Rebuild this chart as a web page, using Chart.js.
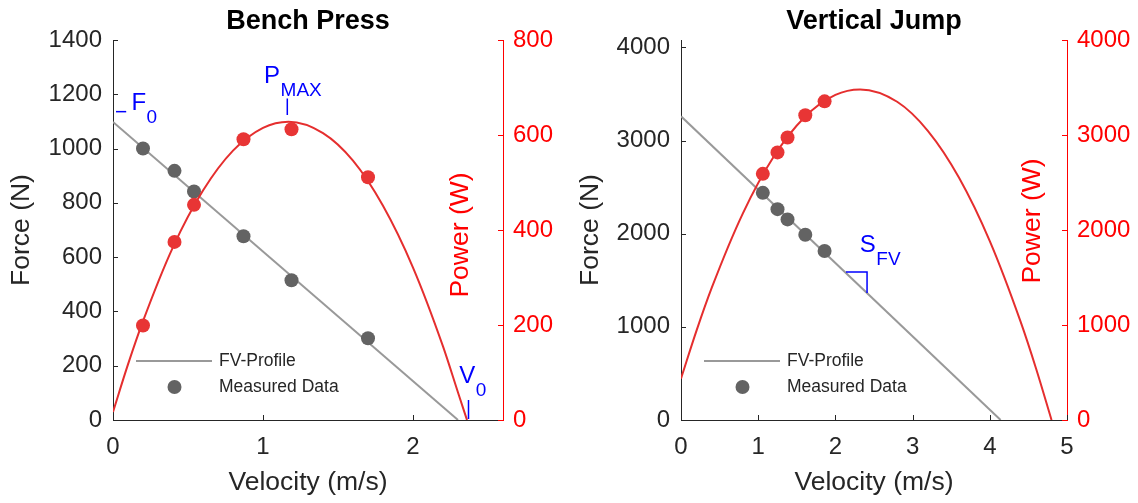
<!DOCTYPE html>
<html>
<head>
<meta charset="utf-8">
<script src="https://cdn.jsdelivr.net/npm/chart.js@4.4.1/dist/chart.umd.min.js"></script>
<style>
  html, body { margin: 0; padding: 0; background: #fff; }
  #wrap { position: relative; width: 1138px; height: 503px; }
  canvas { position: absolute; top: 0; }
  #bench { left: 0; }
  #jump { left: 569px; }
</style>
</head>
<body>
<div id="wrap">
  <canvas id="bench" width="569" height="503"></canvas>
  <canvas id="jump" width="569" height="503"></canvas>
</div>
<script>
// ---- Bench press ----
const benchVelocity = [0.20, 0.41, 0.54, 0.87, 1.19, 1.70];
const benchForce    = [1000, 918, 842, 677, 515, 301];
const benchPower    = [199, 375, 453, 591, 612, 511];
const benchProfileV = [0, 2.30];
const benchProfileF = [1098, 0];
const benchCurveV   = [0, 0.1, 0.2, 0.4, 0.6, 0.8, 1.0, 1.17, 1.4, 1.6, 1.8, 2.0, 2.2, 2.3, 2.36];
const benchCurveP   = [17, 117, 208, 364, 483, 567, 615, 628, 604, 546, 451, 321, 155, 58, 0];
const benchXTicks     = [0, 1, 2];
const benchForceTicks = [0, 200, 400, 600, 800, 1000, 1200, 1400];
const benchPowerTicks = [0, 200, 400, 600, 800];

// ---- Vertical jump ----
const jumpVelocity = [1.06, 1.25, 1.38, 1.61, 1.86];
const jumpForce    = [2439, 2264, 2154, 1989, 1814];
const jumpPower    = [2591, 2817, 2974, 3208, 3354];
const jumpProfileV = [0, 4.14];
const jumpProfileF = [3261, 0];
const jumpCurveV   = [0, 0.2, 0.4, 0.8, 1.2, 1.6, 2.0, 2.32, 2.8, 3.2, 3.6, 4.0, 4.4, 4.6, 4.8];
const jumpCurveP   = [436, 938, 1395, 2173, 2771, 3187, 3422, 3480, 3350, 3042, 2553, 1884, 1033, 540, 0];
const jumpXTicks     = [0, 1, 2, 3, 4, 5];
const jumpForceTicks = [0, 1000, 2000, 3000, 4000];
const jumpPowerTicks = [0, 1000, 2000, 3000, 4000];

// blue markers (F0, Pmax, V0, slope), in data units
const benchMarks = [
  { axis: 'yF', pts: [[0.02, 1136], [0.088, 1136]] },
  { axis: 'yP', pts: [[1.162, 677], [1.162, 642]] },
  { axis: 'yP', pts: [[2.37, 42], [2.37, 2]] }
];
const benchLabels = [
  { axis: 'yF', x: 0.123, y: 1142, main: 'F', sub: '0' },
  { axis: 'yP', x: 1.007, y: 709, main: 'P', sub: 'MAX' },
  { axis: 'yF', x: 2.308, y: 135, main: 'V', sub: '0' }
];
const jumpMarks = [
  { axis: 'yF', pts: [[2.137, 1589], [2.41, 1589], [2.41, 1363]] }
];
const jumpLabels = [
  { axis: 'yF', x: 2.316, y: 1807, main: 'S', sub: 'FV' }
];

const FONT = "'Liberation Sans', Arial, Helvetica, sans-serif";
const AXIS = '#262626';
const RED_AXIS = '#ff0000';
const GRAY_LINE = '#999999';
const GRAY_DOT = '#636363';
const RED_LINE = '#e52e2e';
const RED_DOT = '#e83535';
const BLUE = '#0000ff';

Chart.defaults.font.family = FONT;

const pts = (xs, ys) => xs.map((v, i) => ({x: v, y: ys[i]}));

// MATLAB-ish extras: inward ticks, title, legend, inner "Power (W)" label, blue symbols
const decor = {
    id: 'decor',
    afterDraw(chart, args, o) {
        const {ctx, chartArea: a, scales} = chart;
        const x = scales.x, yF = scales.yF, yP = scales.yP;
        ctx.save();

        ctx.lineWidth = 1;
        ctx.strokeStyle = AXIS;
        ctx.beginPath();
        x.ticks.forEach(t => {
            const px = Math.round(x.getPixelForValue(t.value)) + 0.5;
            ctx.moveTo(px, a.bottom);
            ctx.lineTo(px, a.bottom - 5);
        });
        yF.ticks.forEach(t => {
            const py = Math.round(yF.getPixelForValue(t.value)) + 0.5;
            ctx.moveTo(a.left, py);
            ctx.lineTo(a.left + 5, py);
        });
        ctx.stroke();
        ctx.strokeStyle = RED_AXIS;
        ctx.beginPath();
        yP.ticks.forEach(t => {
            const py = Math.round(yP.getPixelForValue(t.value)) + 0.5;
            ctx.moveTo(a.right, py);
            ctx.lineTo(a.right - 5, py);
        });
        ctx.stroke();

        // title
        ctx.fillStyle = '#000';
        ctx.font = 'bold 27px ' + FONT;
        ctx.textAlign = 'center';
        ctx.textBaseline = 'middle';
        ctx.fillText(o.title, (a.left + a.right) / 2, 22);

        // power label sits inside the axes
        ctx.save();
        ctx.translate(a.right - o.powerDx, o.powerY);
        ctx.rotate(-Math.PI / 2);
        ctx.fillStyle = RED_AXIS;
        ctx.font = '26.5px ' + FONT;
        ctx.fillText('Power (W)', 0, 0);
        ctx.restore();

        // legend
        ctx.strokeStyle = GRAY_LINE;
        ctx.lineWidth = 2;
        ctx.beginPath();
        ctx.moveTo(a.left + 23, a.bottom - 59);
        ctx.lineTo(a.left + 99, a.bottom - 59);
        ctx.stroke();
        ctx.fillStyle = GRAY_DOT;
        ctx.beginPath();
        ctx.arc(a.left + 61.5, a.bottom - 33, 7, 0, Math.PI * 2);
        ctx.fill();
        ctx.fillStyle = AXIS;
        ctx.font = '17.5px ' + FONT;
        ctx.textAlign = 'left';
        ctx.fillText('FV-Profile', a.left + 106, a.bottom - 59);
        ctx.fillText('Measured Data', a.left + 106, a.bottom - 33);

        // blue symbols with subscripts
        ctx.fillStyle = BLUE;
        ctx.textBaseline = 'alphabetic';
        o.labels.forEach(l => {
            const px = x.getPixelForValue(l.x);
            const py = scales[l.axis].getPixelForValue(l.y);
            ctx.font = '24px ' + FONT;
            ctx.fillText(l.main, px, py);
            const w = ctx.measureText(l.main).width;
            ctx.font = '19px ' + FONT;
            ctx.fillText(l.sub, px + w + 0.5, py + 13);
        });
        ctx.restore();
    }
};

function makePanel(id, p) {
    const datasets = [];
    p.marks.forEach(m => {
        datasets.push({
            data: m.pts.map(q => ({x: q[0], y: q[1]})),
            yAxisID: m.axis, showLine: true, pointRadius: 0,
            borderColor: BLUE, borderWidth: 1.5, order: 0, clip: false
        });
    });
    datasets.push({
        data: pts(p.v, p.p), yAxisID: 'yP',
        pointRadius: 7, pointBackgroundColor: RED_DOT, pointBorderWidth: 0, order: 1
    });
    datasets.push({
        type: 'line', data: pts(p.curveV, p.curveP), yAxisID: 'yP',
        pointRadius: 0, borderColor: RED_LINE, borderWidth: 2,
        cubicInterpolationMode: 'monotone', fill: false, order: 2
    });
    datasets.push({
        data: pts(p.v, p.f), yAxisID: 'yF',
        pointRadius: 7, pointBackgroundColor: GRAY_DOT, pointBorderWidth: 0, order: 3
    });
    datasets.push({
        type: 'line', data: pts(p.profileV, p.profileF), yAxisID: 'yF',
        pointRadius: 0, borderColor: GRAY_LINE, borderWidth: 2, tension: 0, order: 4
    });

    return new Chart(document.getElementById(id), {
        type: 'scatter',
        data: {datasets: datasets},
        plugins: [decor],
        options: {
            responsive: false,
            animation: false,
            events: [],
            devicePixelRatio: 1,
            layout: {padding: {top: 40, left: 0, right: 0, bottom: 0}},
            plugins: {
                legend: {display: false},
                tooltip: {enabled: false},
                decor: {title: p.title, powerDx: p.powerDx, powerY: p.powerY, labels: p.labels}
            },
            scales: {
                x: {
                    type: 'linear', min: 0, max: p.xMax,
                    afterFit: s => { s.height = 83; },
                    afterBuildTicks: s => { s.ticks = p.xTicks.map(v => ({value: v})); },
                    grid: {drawOnChartArea: false, drawTicks: false},
                    border: {color: AXIS, width: 1},
                    ticks: {color: AXIS, font: {size: 24}, padding: 13, callback: v => String(v)},
                    title: {display: true, text: 'Velocity (m/s)', color: AXIS, font: {size: 26.5},
                        padding: {top: 0, bottom: 4}}
                },
                yF: {
                    type: 'linear', position: 'left', min: 0, max: p.fMax,
                    afterFit: s => { s.width = p.leftW; },
                    afterBuildTicks: s => { s.ticks = p.fTicks.map(v => ({value: v})); },
                    grid: {drawOnChartArea: false, drawTicks: false},
                    border: {color: AXIS, width: 1},
                    ticks: {color: AXIS, font: {size: 24}, padding: 11, callback: v => String(v)},
                    title: {display: true, text: 'Force (N)', color: AXIS, font: {size: 26.5},
                        padding: {top: 6, bottom: 0}}
                },
                yP: {
                    type: 'linear', position: 'right', min: 0, max: p.pMax,
                    afterFit: s => { s.width = p.rightW; },
                    afterBuildTicks: s => { s.ticks = p.pTicks.map(v => ({value: v})); },
                    grid: {drawOnChartArea: false, drawTicks: false},
                    border: {color: RED_AXIS, width: 1},
                    ticks: {color: RED_AXIS, font: {size: 24}, padding: 10, callback: v => String(v)}
                }
            }
        }
    });
}

makePanel('bench', {
    title: 'Bench Press', xMax: 2.6, fMax: 1400, pMax: 800, leftW: 113, rightW: 66,
    xTicks: benchXTicks, fTicks: benchForceTicks, pTicks: benchPowerTicks,
    v: benchVelocity, f: benchForce, p: benchPower,
    profileV: benchProfileV, profileF: benchProfileF,
    curveV: benchCurveV, curveP: benchCurveP,
    marks: benchMarks, labels: benchLabels, powerDx: 42, powerY: 235
});

makePanel('jump', {
    title: 'Vertical Jump', xMax: 5, fMax: 4080, pMax: 4000, leftW: 112, rightW: 71,
    xTicks: jumpXTicks, fTicks: jumpForceTicks, pTicks: jumpPowerTicks,
    v: jumpVelocity, f: jumpForce, p: jumpPower,
    profileV: jumpProfileV, profileF: jumpProfileF,
    curveV: jumpCurveV, curveP: jumpCurveP,
    marks: jumpMarks, labels: jumpLabels, powerDx: 34.5, powerY: 221
});
</script>
</body>
</html>
